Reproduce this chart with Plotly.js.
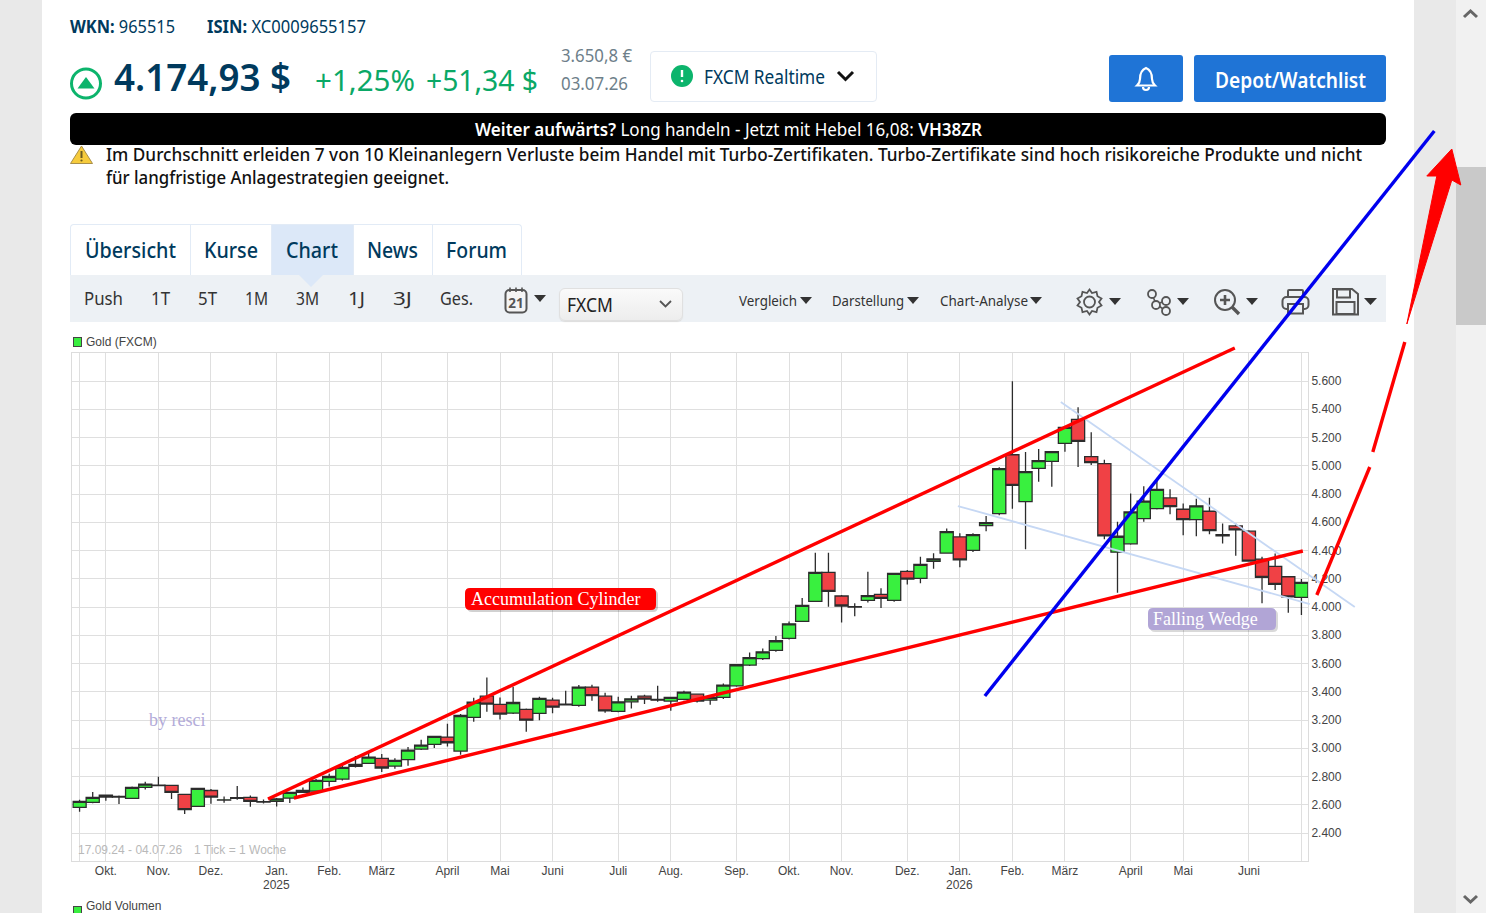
<!DOCTYPE html>
<html lang="de"><head><meta charset="utf-8"><title>Gold (FXCM)</title>
<script src="https://cdn.plot.ly/plotly-3.0.1.min.js"></script>
<style>
html,body{margin:0;padding:0;width:1486px;height:913px;overflow:hidden;background:#fff;font-family:"Noto Sans",sans-serif}
.b{position:absolute;box-sizing:border-box}
.t{position:absolute;white-space:nowrap;transform-origin:left center;line-height:1}
svg.i{position:absolute;overflow:visible}
#chart{position:absolute;left:0;top:0;width:1486px;height:913px;z-index:5;pointer-events:none}
</style></head><body>
<div id="chrome"></div>
<div id="chart"></div>
<script>
// ---------- chart data (weekly candles, FXCM gold) ----------
const dates=["2024-09-16","2024-09-23","2024-09-30","2024-10-07","2024-10-14","2024-10-21","2024-10-28","2024-11-04","2024-11-11","2024-11-18","2024-11-25","2024-12-02","2024-12-09","2024-12-16","2024-12-23","2024-12-30","2025-01-06","2025-01-13","2025-01-20","2025-01-27","2025-02-03","2025-02-10","2025-02-17","2025-02-24","2025-03-03","2025-03-10","2025-03-17","2025-03-24","2025-03-31","2025-04-07","2025-04-14","2025-04-21","2025-04-28","2025-05-05","2025-05-12","2025-05-19","2025-05-26","2025-06-02","2025-06-09","2025-06-16","2025-06-23","2025-06-30","2025-07-07","2025-07-14","2025-07-21","2025-07-28","2025-08-04","2025-08-11","2025-08-18","2025-08-25","2025-09-01","2025-09-08","2025-09-15","2025-09-22","2025-09-29","2025-10-06","2025-10-13","2025-10-20","2025-10-27","2025-11-03","2025-11-10","2025-11-17","2025-11-24","2025-12-01","2025-12-08","2025-12-15","2025-12-22","2025-12-29","2026-01-05","2026-01-12","2026-01-19","2026-01-26","2026-02-02","2026-02-09","2026-02-16","2026-02-23","2026-03-02","2026-03-09","2026-03-16","2026-03-23","2026-03-30","2026-04-06","2026-04-13","2026-04-20","2026-04-27","2026-05-04","2026-05-11","2026-05-18","2026-05-25","2026-06-01","2026-06-08","2026-06-15","2026-06-22","2026-06-29"];
const opens=[2581,2617,2668,2654,2645,2723,2735,2737,2673,2588,2701,2633,2645,2652,2619,2624,2647,2687,2697,2765,2782,2871,2893,2928,2874,2919,2994,3027,3079,2980,3218,3369,3310,3249,3275,3247,3341,3308,3303,3433,3369,3261,3329,3369,3346,3334,3346,3383,3341,3360,3442,3589,3634,3693,3778,3898,4040,4245,4078,4000,4047,4090,4047,4252,4203,4323,4382,4496,4401,4576,4661,5078,4746,4982,5031,5159,5328,5064,5015,4388,4447,4626,4697,4772,4692,4619,4678,4513,4574,4537,4339,4287,4214,4068];
const highs=[2635,2690,2673,2666,2730,2763,2798,2737,2673,2716,2711,2659,2732,2666,2638,2647,2692,2723,2782,2820,2880,2945,2966,2959,2930,3008,3060,3088,3173,3242,3358,3501,3360,3435,3282,3365,3358,3407,3447,3450,3393,3365,3372,3379,3442,3365,3407,3388,3365,3459,3596,3678,3707,3794,3898,4063,4384,4384,4085,4026,4250,4132,4238,4262,4356,4380,4555,4522,4522,4644,4989,5598,5097,5119,5100,5277,5415,5238,5043,4603,4803,4855,4908,4833,4732,4767,4774,4591,4591,4544,4355,4379,4214,4198];
const lows=[2550,2610,2628,2605,2640,2708,2733,2640,2534,2585,2607,2614,2635,2586,2609,2588,2612,2685,2687,2730,2772,2864,2888,2831,2855,2876,2987,3001,3013,2954,3188,3258,3204,3242,3117,3199,3247,3303,3294,3336,3251,3254,3282,3313,3329,3265,3339,3324,3308,3348,3435,3582,3624,3683,3770,3898,4035,4002,3890,3935,4031,3993,4038,4160,4168,4271,4378,4281,4389,4536,4649,4696,4408,4887,4852,5100,4991,5005,4480,4101,4440,4603,4690,4657,4508,4501,4515,4450,4363,4320,4026,4120,3960,3944];
const closes=[2624,2652,2654,2659,2723,2746,2738,2687,2565,2716,2654,2635,2650,2624,2622,2642,2687,2701,2772,2800,2864,2886,2937,2860,2914,2987,3022,3084,3039,3232,3327,3313,3242,3324,3199,3353,3291,3313,3433,3372,3265,3329,3350,3348,3340,3360,3398,3334,3360,3447,3591,3641,3683,3761,3881,4011,4245,4110,4007,4003,4080,4061,4238,4198,4302,4340,4533,4333,4512,4597,4979,4861,4958,5036,5100,5272,5172,5022,4504,4501,4673,4749,4833,4711,4619,4716,4541,4504,4546,4325,4210,4160,4071,4174.93];

const xTickVals=["2024-09-16","2024-09-30","2024-10-28","2024-11-25","2024-12-30","2025-01-27","2025-02-24","2025-03-31","2025-04-28","2025-05-26","2025-06-30","2025-07-28","2025-09-01","2025-09-29","2025-10-27","2025-12-01","2025-12-29","2026-01-26","2026-02-23","2026-03-30","2026-04-27","2026-06-01","2026-06-29"];
const xTickText=["","Okt.","Nov.","Dez.","Jan.","Feb.","März","April","Mai","Juni","Juli","Aug.","Sep.","Okt.","Nov.","Dez.","Jan.","Feb.","März","April","Mai","Juni",""];
const yearTickVals=["2024-12-30","2025-12-29"];
const yearTickText=["2025","2026"];
const yTickVals=[2400,2600,2800,3000,3200,3400,3600,3800,4000,4200,4400,4600,4800,5000,5200,5400,5600];
const yTickText=["2.400","2.600","2.800","3.000","3.200","3.400","3.600","3.800","4.000","4.200","4.400","4.600","4.800","5.000","5.200","5.400","5.600"];

// hand-drawn trend lines on the chart (date, price)
const cylUpperX=["2024-12-25 09:00","2026-05-24 12:00"], cylUpperY=[2640.7,5833.6];
const cylLowerX=["2025-01-08 05:00","2026-06-29 18:00"], cylLowerY=[2647.8,4396.5];
const blueX=["2026-01-11 08:00","2026-09-07 19:00"], blueY=[3370,7369.9];
const wedgeTopX=["2026-02-20 19:00","2026-07-27 10:00"], wedgeTopY=[5451.3,4000];
const wedgeLowX=["2025-12-27 23:00","2026-07-03 11:00"], wedgeLowY=[4715,4021.2];
const arrowSeg1X=["2026-07-07 05:00","2026-08-04 10:00"], arrowSeg1Y=[4085,4991.2];
const arrowSeg2X=["2026-08-06 00:30","2026-08-23 02:00"], arrowSeg2Y=[5097.3,5876.1];
const arrowHeadX=["2026-08-24 04:00","2026-09-09 03:00","2026-09-03 19:00","2026-09-17 03:00","2026-09-21 22:00","2026-09-17 03:00","2026-08-24 04:00"];
const arrowHeadY=[6003.5,7051.3,7051.3,7242.5,6987.6,7023,6003.5];

// ---------- page chrome ----------
const root=document.getElementById('chrome');
const navy='#003a5d';
function box(x,y,w,h,css){const d=document.createElement('div');d.className='b';d.style.cssText=`left:${x}px;top:${y}px;width:${w}px;height:${h}px;${css||''}`;root.appendChild(d);return d;}
function txt(x0,x1,yc,size,color,html,weight){const s=document.createElement('span');s.className='t';s.innerHTML=html;s.dataset.w=x1-x0;s.style.cssText=`left:${x0}px;top:${yc-1}px;font-size:${size}px;color:${color};font-weight:${weight||400};`;root.appendChild(s);}
function svg(x,y,w,h,inner){const d=document.createElement('div');d.innerHTML=`<svg class="i" style="left:${x}px;top:${y}px" width="${w}" height="${h}" viewBox="0 0 ${w} ${h}">${inner}</svg>`;root.appendChild(d.firstChild);}
function tri(x,y,w,h,c){svg(x,y,w,h,`<path d="M0 0H${w}L${w/2} ${h}Z" fill="${c||'#333'}"/>`);}

box(0,0,42,913,'background:#e9e9e9');
box(1414,0,42,913,'background:#e9e9e9');
box(1456,0,30,913,'background:#f1f1f1');
box(1456,167,30,158,'background:#c9c9c9');
svg(1463,9,15,10,'<path d="M1 8L7.5 2L14 8" fill="none" stroke="#666" stroke-width="3"/>');
svg(1463,894,15,10,'<path d="M1 2L7.5 8L14 2" fill="none" stroke="#666" stroke-width="3"/>');

txt(70,175,27,18,navy,'<b>WKN:</b> 965515');
txt(207,366,27,18,navy,'<b>ISIN:</b> XC0009655157');
svg(70,67,32,33,'<circle cx="16" cy="16.5" r="14.5" fill="none" stroke="#0cb46c" stroke-width="3"/><path d="M7.5 21.5L16 10L24.5 21.5Z" fill="#0cb46c"/>');
txt(114,291,77,37,navy,'4.174,93 $',600);
txt(315,415,80,29,'#0aa866','+1,25%');
txt(426,538,80,29,'#0aa866','+51,34 $');
txt(561,632,56,18,'#6e7f8a','3.650,8 €');
txt(561,628,84,18,'#6e7f8a','03.07.26');
box(650,51,227,51,'border:1px solid #e4ebf4;border-radius:4px;background:#fff');
svg(671,65,22,22,'<circle cx="11" cy="11" r="11" fill="#0cb46c"/><path d="M11 5V12" stroke="#fff" stroke-width="2.4"/><circle cx="11" cy="16" r="1.3" fill="#fff"/>');
txt(704,825,78,19,navy,'FXCM Realtime');
svg(836,70,19,12,'<path d="M2 2L9.5 9.5L17 2" fill="none" stroke="#111" stroke-width="3"/>');
box(1109,55,74,47,'background:#1f74d6;border-radius:3px');
svg(1134,66,24,26,'<path d="M12 2C7 4 6 8 6 13C6 16 4.5 18 3 19.5H21C19.5 18 18 16 18 13C18 8 17 4 12 2Z" fill="none" stroke="#fff" stroke-width="2.2"/><path d="M9 21C9 25 15 25 15 21" fill="none" stroke="#fff" stroke-width="2.2"/>');
box(1194,55,192,47,'background:#1f74d6;border-radius:3px');
txt(1215,1366,80,22,'#fff','Depot/Watchlist',600);
box(70,113,1316,32,'background:#000;border-radius:6px');
txt(475,982,130,18,'#fff','<b style="font-weight:600">Weiter aufwärts?</b> Long handeln - Jetzt mit Hebel 16,08: <b style="font-weight:600">VH38ZR</b>');
svg(70,145,23,19,'<path d="M11.5 1L22.5 18.5H0.5Z" fill="#f6cb3c" stroke="#a98f4a" stroke-width="1"/><path d="M11.5 6V13" stroke="#6b5a20" stroke-width="2"/><circle cx="11.5" cy="15.5" r="1.1" fill="#6b5a20"/>');
txt(106,1362,155,18.5,'#111','Im Durchschnitt erleiden 7 von 10 Kleinanlegern Verluste beim Handel mit Turbo-Zertifikaten. Turbo-Zertifikate sind hoch risikoreiche Produkte und nicht',500);
txt(106,449,178,18.5,'#111','für langfristige Anlagestrategien geeignet.',500);

box(70,224,452,51,'border:1px solid #e2ebf6;border-bottom:none;border-radius:4px 4px 0 0;background:#fff');
box(271,225,82,50,'background:#dce8f8');
[190,271,353,432].forEach(x=>box(x,225,1,50,'background:#e2ebf6'));
txt(85,176,250,22,navy,'Übersicht',500);
txt(204,258,250,22,navy,'Kurse',500);
txt(286,338,250,22,navy,'Chart',500);
txt(367,418,250,22,navy,'News',500);
txt(446,507,250,22,navy,'Forum',500);
box(70,275,1316,47,'background:#edf1f5');
svg(299,275,24,12,'<path d="M0 0H24L12 12Z" fill="#dce8f8"/>');
[[84,123,'Push'],[151,170,'1T'],[198,217,'5T'],[245,268,'1M'],[296,319,'3M'],[348,365,'1J'],[393,412,'3J'],[440,473,'Ges.']].forEach(a=>txt(a[0],a[1],299,18,'#333',a[2]));
svg(504,286,24,28,'<rect x="1.5" y="4" width="21" height="22.5" rx="4" fill="#f4f4f4" stroke="#555" stroke-width="2"/><path d="M6 1.5V6M12 1.5V6M18 1.5V6" stroke="#555" stroke-width="1.6"/><text x="12" y="22" text-anchor="middle" font-size="13.5" font-weight="700" fill="#555" font-family="Noto Sans">21</text>');
tri(534,295,12,7);
box(559,288,124,33,'background:linear-gradient(#fafafa,#ededed);border:1px solid #e0e0e0;border-radius:6px;box-shadow:0 1px 1px #ddd');
txt(567,613,306,20,'#222','FXCM');
svg(659,300,13,8,'<path d="M1 1L6.5 6.5L12 1" fill="none" stroke="#555" stroke-width="1.8"/>');
txt(739,797,302,14,'#333','Vergleich'); tri(800,297,12,7);
txt(832,904,302,14,'#333','Darstellung'); tri(907,297,12,7);
txt(940,1028,302,14,'#333','Chart-Analyse'); tri(1030,297,12,7);
svg(1076,288,27,28,'<path d="M13.5 1.5L16 5L20.5 3.8L21.5 8.2L25.5 10.5L23 14L25.5 17.5L21.5 19.8L20.5 24.2L16 23L13.5 26.5L11 23L6.5 24.2L5.5 19.8L1.5 17.5L4 14L1.5 10.5L5.5 8.2L6.5 3.8L11 5Z" fill="none" stroke="#555" stroke-width="1.8"/><circle cx="13.5" cy="14" r="5.5" fill="none" stroke="#555" stroke-width="1.8"/>');
tri(1109,298,12,7);
svg(1146,288,26,28,'<path d="M6 6L10 16L20 23M10 16L20 13" fill="none" stroke="#555" stroke-width="1.6"/><circle cx="6" cy="6" r="4" fill="#edf1f5" stroke="#555" stroke-width="1.8"/><circle cx="10" cy="17" r="4" fill="#edf1f5" stroke="#555" stroke-width="1.8"/><circle cx="20" cy="13" r="4" fill="#edf1f5" stroke="#555" stroke-width="1.8"/><circle cx="20" cy="23" r="4" fill="#edf1f5" stroke="#555" stroke-width="1.8"/>');
tri(1177,298,12,7);
svg(1213,288,28,28,'<circle cx="12" cy="12" r="10" fill="none" stroke="#555" stroke-width="2"/><path d="M12 7V17M7 12H17" stroke="#555" stroke-width="2.6"/><path d="M19 19L26 26" stroke="#555" stroke-width="3.4"/>');
tri(1246,298,12,7);
svg(1281,288,29,28,'<rect x="7" y="2" width="15" height="7" rx="1" fill="none" stroke="#555" stroke-width="2"/><rect x="1.5" y="9" width="26" height="12" rx="4" fill="none" stroke="#555" stroke-width="2"/><rect x="7" y="16" width="15" height="9.5" fill="#edf1f5" stroke="#555" stroke-width="2"/>');
svg(1332,288,27,28,'<path d="M1 1H20L26 6V26.5H1Z" fill="none" stroke="#555" stroke-width="2"/><rect x="5" y="1.5" width="13" height="8" fill="none" stroke="#555" stroke-width="2"/><rect x="4.5" y="14" width="18" height="12" fill="none" stroke="#555" stroke-width="2"/>');
tri(1364,298,13,7);

box(73,337,9,9.5,'background:#39ee3f;border:1px solid #444');
box(73,906,9,9,'background:#39ee3f;border:1px solid #444');

function fit(){document.querySelectorAll('.t').forEach(e=>{e.style.transform='translateY(-50%)';const r=e.dataset.w/e.getBoundingClientRect().width;e.style.transform=`translateY(-50%) scaleX(${r})`;});}
fit(); if(document.fonts&&document.fonts.ready)document.fonts.ready.then(fit);

// ---------- chart ----------
const W=1486,H=913,L=72.3,R=1308,T=352.75,B=861.25;
const xRange=['2024-09-12T03:00:00Z','2026-07-02T12:00:00Z'], yRange=[2200,5800];
const px=x=>x/W, py=y=>1-y/H;
const t0=Date.parse(xRange[0]),t1=Date.parse(xRange[1]),msPx=(t1-t0)/(R-L),vPx=(yRange[1]-yRange[0])/(B-T);
const iso=t=>new Date(t).toISOString().slice(0,19).replace('T',' ');
function rr(x0,y0,x1,y1,r){return `M${px(x0+r)} ${py(y0)}L${px(x1-r)} ${py(y0)}Q${px(x1)} ${py(y0)} ${px(x1)} ${py(y0+r)}L${px(x1)} ${py(y1-r)}Q${px(x1)} ${py(y1)} ${px(x1-r)} ${py(y1)}L${px(x0+r)} ${py(y1)}Q${px(x0)} ${py(y1)} ${px(x0)} ${py(y1-r)}L${px(x0)} ${py(y0+r)}Q${px(x0)} ${py(y0)} ${px(x0+r)} ${py(y0)}Z`;}
const pathShape=(d,c)=>({type:'path',xref:'paper',yref:'paper',path:d,fillcolor:c,line:{width:0},layer:'above'});
const line=(x,y,c,w)=>({type:'scatter',mode:'lines',x,y,xaxis:'x2',yaxis:'y2',line:{color:c,width:w},hoverinfo:'skip',showlegend:false});
const note=(x,y,text,size,color,family)=>({xref:'paper',yref:'paper',x:px(x),y:py(y),xanchor:'left',yanchor:'middle',showarrow:false,text,font:{size,color,family}});
const sans='"Liberation Sans",Arial,sans-serif', serif='"Liberation Serif",serif';

const traces=[
 {type:'candlestick',x:dates,open:opens,high:highs,low:lows,close:closes,
  increasing:{line:{color:'#2c2c2c',width:1.3},fillcolor:'#39f03f'},
  decreasing:{line:{color:'#2c2c2c',width:1.3},fillcolor:'#f04145'},
  width:6.0*864e5,whiskerwidth:0,hoverinfo:'skip',showlegend:false},
 line(wedgeTopX,wedgeTopY,'#c6d8f4',1.8),
 line(wedgeLowX,wedgeLowY,'#c6d8f4',1.8),
 line(cylUpperX,cylUpperY,'#ff0000',3.4),
 line(cylLowerX,cylLowerY,'#ff0000',3.4),
 line(blueX,blueY,'#0000ee',3.4),
 line(arrowSeg1X,arrowSeg1Y,'#ff0000',3.4),
 line(arrowSeg2X,arrowSeg2Y,'#ff0000',3.4),
 {type:'scatter',mode:'lines',x:arrowHeadX,y:arrowHeadY,xaxis:'x2',yaxis:'y2',fill:'toself',fillcolor:'#ff0000',line:{color:'#ff0000',width:1},hoverinfo:'skip',showlegend:false}
];
const layout={
 width:W,height:H,autosize:false,showlegend:false,boxgap:0,boxgroupgap:0,
 paper_bgcolor:'rgba(0,0,0,0)',plot_bgcolor:'rgba(0,0,0,0)',
 margin:{l:0,r:0,t:0,b:0,pad:0},
 font:{family:sans,size:12,color:'#444'},
 xaxis:{type:'date',domain:[L/W,R/W],anchor:'y',range:[iso(t0),iso(t1)],tickmode:'array',tickvals:xTickVals,ticktext:xTickText,tickangle:0,
  showgrid:true,gridcolor:'#dfdfdf',gridwidth:1,showline:true,mirror:true,linecolor:'#dcdcdc',linewidth:1,ticks:'',zeroline:false,
  rangeslider:{visible:false},tickfont:{size:12,color:'#444'},fixedrange:true,ticklabelstandoff:-2},
 yaxis:{side:'right',domain:[1-B/H,1-T/H],anchor:'x',range:yRange,tickmode:'array',tickvals:yTickVals,ticktext:yTickText,
  showgrid:true,gridcolor:'#dfdfdf',gridwidth:1,showline:true,mirror:true,linecolor:'#dcdcdc',linewidth:1,ticks:'',zeroline:false,
  tickfont:{size:12,color:'#444'},fixedrange:true},
 // invisible full-page axes on the same scale, so the drawn lines may leave the plot area
 xaxis2:{type:'date',domain:[0,1],anchor:'y2',visible:false,fixedrange:true,range:[iso(t0-L*msPx),iso(t1+(W-R)*msPx)]},
 yaxis2:{domain:[0,1],anchor:'x2',visible:false,fixedrange:true,range:[yRange[0]-(H-B)*vPx,yRange[1]+T*vPx]},
 shapes:[
  pathShape(rr(467,590,658,612,5),'rgba(0,0,0,0.18)'),
  pathShape(rr(465,588,656,610,5),'#ff0000'),
  pathShape(rr(1150,610,1278,632,5),'rgba(0,0,0,0.15)'),
  pathShape(rr(1148,608,1276,630,5),'#b1a5d6')
 ],
 annotations:[
  note(84,342,'Gold (FXCM)',12,'#444',sans),
  note(84,905.5,'Gold Volumen',12,'#444',sans),
  note(76,850,'17.09.24 - 04.07.26',12,'#b9b9b9',sans),
  note(192,850,'1 Tick = 1 Woche',12,'#b9b9b9',sans),
  note(147,720,'by resci',18,'#b3acd9',serif),
  note(469,599,'Accumulation Cylinder',18,'#ffffff',serif),
  note(1151,619,'Falling Wedge',18,'#ffffff',serif),
  ...yearTickVals.map((d,k)=>({xref:'x',yref:'paper',x:d,y:py(885),xanchor:'center',yanchor:'middle',showarrow:false,text:yearTickText[k],font:{size:12,color:'#444',family:sans}}))
 ]
};
Plotly.newPlot('chart',traces,layout,{staticPlot:true,displayModeBar:false});
</script>
</body></html>
